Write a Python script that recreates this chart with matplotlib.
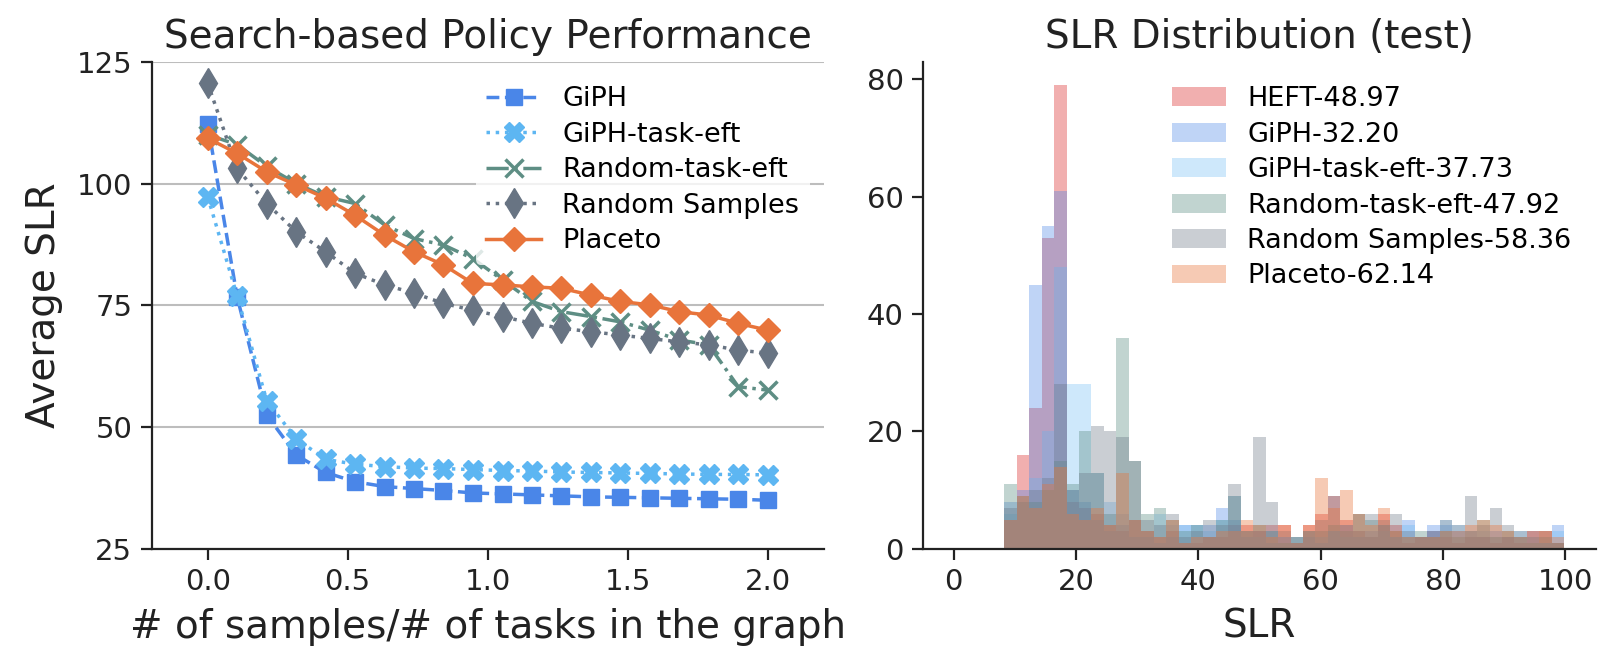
import numpy as np
import matplotlib
matplotlib.use("Agg")
import matplotlib.pyplot as plt

plt.rcParams['font.family'] = ['DejaVu Sans']

# ---------------- Left panel data ----------------
sample_ratio = [0.0, 0.105, 0.211, 0.316, 0.421, 0.526, 0.632, 0.737, 0.842, 0.947,
                1.053, 1.158, 1.263, 1.368, 1.474, 1.579, 1.684, 1.789, 1.895, 2.0]
giph = [112.2, 76.8, 52.5, 44.3, 40.7, 38.8, 37.8, 37.4, 37.0, 36.5,
        36.3, 36.1, 35.9, 35.7, 35.6, 35.5, 35.4, 35.3, 35.2, 35.0]
giph_task_eft = [97.3, 77.0, 55.4, 47.6, 43.4, 42.4, 41.9, 41.6, 41.5, 41.3,
                 41.1, 41.0, 40.8, 40.7, 40.6, 40.5, 40.4, 40.3, 40.3, 40.2]
random_task_eft = [110.0, 108.0, 103.5, 100.0, 97.3, 95.9, 91.5, 88.7, 87.4, 84.6,
                   80.2, 75.8, 73.7, 72.7, 71.6, 69.9, 67.9, 66.9, 58.3, 57.6]
random_samples = [120.6, 103.1, 95.9, 90.1, 86.0, 81.6, 79.2, 77.5, 75.4, 74.0,
                  72.7, 71.3, 70.3, 69.6, 68.9, 68.2, 67.5, 66.9, 65.8, 65.2]
placeto = [109.3, 106.2, 102.4, 99.7, 97.0, 93.5, 89.4, 86.0, 83.3, 79.5,
           79.2, 78.8, 78.5, 77.1, 75.8, 75.1, 73.7, 73.0, 71.3, 69.9]
line_labels = ["GiPH", "GiPH-task-eft", "Random-task-eft", "Random Samples", "Placeto"]

# ---------------- Right panel data (histogram counts per bin) ----------------
slr_bin_low = 8.3
slr_bin_high = 99.8
n_bins = 45
heft_counts = [5, 16, 24, 53, 79, 8, 7, 6, 4, 3, 5, 3, 2, 3, 1, 1, 2, 2, 4, 4, 3, 4, 4,
               1, 4, 6, 9, 5, 3, 2, 6, 4, 1, 2, 3, 2, 1, 2, 2, 1, 2, 1, 3, 3, 1]
giph_counts = [8, 10, 45, 55, 61, 10, 8, 5, 3, 4, 2, 2, 1, 2, 4, 4, 4, 7, 5, 2, 3, 1, 2,
               1, 2, 1, 3, 4, 2, 3, 4, 2, 5, 2, 4, 4, 3, 3, 2, 3, 2, 2, 3, 1, 4]
giph_eft_counts = [6, 8, 12, 20, 48, 28, 28, 13, 8, 6, 5, 3, 6, 4, 4, 4, 3, 5, 9, 3, 2, 3, 2,
                   2, 3, 2, 3, 2, 3, 2, 3, 2, 4, 2, 3, 5, 4, 2, 3, 2, 2, 3, 2, 1, 3]
rand_eft_counts = [11, 9, 8, 10, 15, 11, 20, 13, 6, 36, 15, 6, 7, 5, 3, 4, 2, 5, 9, 3, 4, 3, 1,
                   2, 3, 3, 4, 3, 6, 5, 4, 3, 2, 3, 2, 3, 2, 3, 5, 2, 3, 2, 1, 2, 1]
rand_samples_counts = [7, 8, 10, 12, 28, 10, 13, 21, 20, 19, 15, 5, 4, 6, 2, 3, 5, 4, 11, 3, 19, 8, 3,
                       2, 3, 5, 9, 4, 6, 6, 5, 6, 3, 2, 3, 5, 4, 9, 4, 7, 4, 3, 2, 3, 1]
placeto_counts = [5, 9, 7, 11, 14, 6, 5, 7, 4, 13, 5, 3, 2, 5, 1, 2, 2, 3, 3, 5, 4, 2, 4,
                  1, 4, 12, 7, 10, 6, 4, 7, 3, 2, 2, 2, 3, 3, 4, 5, 4, 3, 2, 3, 3, 2]
hist_names = ["HEFT", "GiPH", "GiPH-task-eft", "Random-task-eft", "Random Samples", "Placeto"]
hist_means = [48.97, 32.20, 37.73, 47.92, 58.36, 62.14]

# ---------------- Styling ----------------
c_giph = "#4A86E8"
c_giph_eft = "#5DB6F2"
c_rand_eft = "#5E8E84"
c_rand_s = "#687483"
c_placeto = "#E8743B"
c_heft = "#E04F4F"
text_c = "#222222"

fig = plt.figure(figsize=(16, 6.53), dpi=100)
ax1 = fig.add_axes([0.0948, 0.1593, 0.42, 0.7462])
ax2 = fig.add_axes([0.5769, 0.1593, 0.4206, 0.7462])

lw = 2.5
ax1.plot(sample_ratio, giph, linestyle='--', marker='s', ms=12, lw=lw, color=c_giph,
         label=line_labels[0])
ax1.plot(sample_ratio, giph_task_eft, linestyle=':', marker='X', ms=14, lw=lw, color=c_giph_eft,
         label=line_labels[1])
ax1.plot(sample_ratio, random_task_eft, linestyle='-.', marker='x', ms=13, mew=2.5, lw=lw,
         color=c_rand_eft, label=line_labels[2])
ax1.plot(sample_ratio, random_samples, linestyle=':', marker='d', ms=15, lw=lw, color=c_rand_s,
         label=line_labels[3])
ax1.plot(sample_ratio, placeto, linestyle='-', marker='D', ms=12, lw=lw, color=c_placeto,
         label=line_labels[4])

ax1.set_xlim(-0.2, 2.2)
ax1.set_ylim(25, 125)
ax1.set_yticks([25, 50, 75, 100, 125])
ax1.set_xticks([0.0, 0.5, 1.0, 1.5, 2.0])
ax1.set_xticklabels(["0.0", "0.5", "1.0", "1.5", "2.0"])
ax1.yaxis.grid(True, color="#BDBDBD", lw=1.5)
ax1.set_axisbelow(True)
ax1.set_title("Search-based Policy Performance", fontsize=28, color=text_c, pad=10)
ax1.set_xlabel("# of samples/# of tasks in the graph", fontsize=28, color=text_c, labelpad=8)
ax1.set_ylabel("Average SLR", fontsize=28, color=text_c, labelpad=10)
leg1 = ax1.legend(loc='upper right', fontsize=19.5, frameon=True, framealpha=0.8,
                  labelspacing=0.35, borderaxespad=0.5)
leg1.get_frame().set_edgecolor('none')
leg1.get_frame().set_facecolor('white')

# histogram
edges = np.linspace(slr_bin_low, slr_bin_high, n_bins + 1)
centers = (edges[:-1] + edges[1:]) / 2
hist_counts = [heft_counts, giph_counts, giph_eft_counts, rand_eft_counts,
               rand_samples_counts, placeto_counts]
hist_colors = [c_heft, c_giph, c_giph_eft, c_rand_eft, c_rand_s, c_placeto]
hist_alphas = [0.45, 0.35, 0.3, 0.38, 0.35, 0.38]
for name, mean, counts, col, a in zip(hist_names, hist_means, hist_counts, hist_colors, hist_alphas):
    ax2.hist(centers, bins=edges, weights=counts, color=col, alpha=a,
             label=f"{name}-{mean:.2f}")

ax2.set_xlim(-5, 105)
ax2.set_ylim(0, 82.95)
ax2.set_xticks([0, 20, 40, 60, 80, 100])
ax2.set_yticks([0, 20, 40, 60, 80])
ax2.set_title("SLR Distribution (test)", fontsize=28, color=text_c, pad=10)
ax2.set_xlabel("SLR", fontsize=28, color=text_c, labelpad=8)
ax2.legend(loc='upper right', fontsize=19.5, frameon=False, labelspacing=0.35,
           borderaxespad=0.5)

for ax in (ax1, ax2):
    for s in ('top', 'right'):
        ax.spines[s].set_visible(False)
    for s in ('left', 'bottom'):
        ax.spines[s].set_linewidth(1.6)
        ax.spines[s].set_color(text_c)
    ax.tick_params(axis='both', labelsize=21, length=8, width=1.6, pad=6,
                   color=text_c, labelcolor=text_c, direction='out')

fig.savefig("out.png", dpi=100)
